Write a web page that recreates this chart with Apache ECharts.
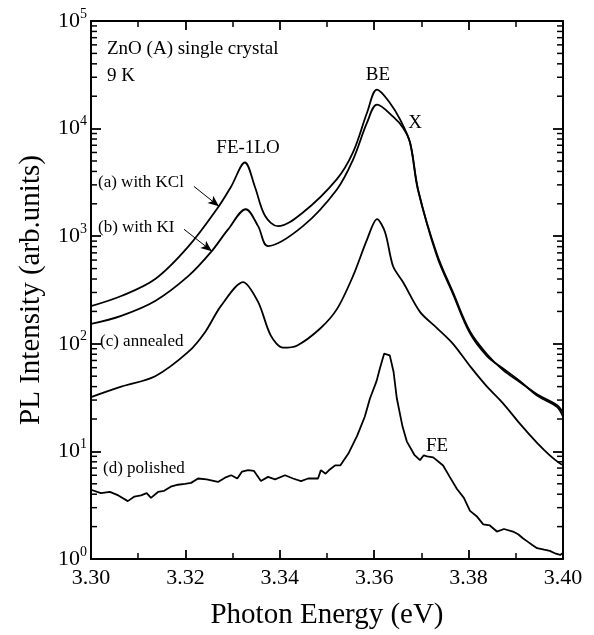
<!DOCTYPE html>
<html>
<head>
<meta charset="utf-8">
<title>ZnO PL spectra</title>
<script src="https://cdn.jsdelivr.net/npm/echarts@6/dist/echarts.min.js"></script>
<style>
  html, body { margin: 0; padding: 0; background: #fff; }
  #chart { width: 594px; height: 635px; }
</style>
</head>
<body>
<div id="chart"></div>
<script>
// (a) with KCl  [photon energy eV, PL intensity]
const withKCl = [
  [3.3000, 224], [3.3064, 278], [3.3136, 400], [3.3206, 800], [3.3269, 1850],
  [3.3297, 2900], [3.3326, 4840], [3.3347, 2900], [3.3369, 1540], [3.3396, 1240],
  [3.3449, 1660], [3.3521, 3390], [3.3555, 6000], [3.3585, 14100], [3.3606, 23000],
  [3.3633, 17400], [3.3655, 12100], [3.3676, 7400], [3.3693, 2720], [3.3733, 650],
  [3.3767, 290], [3.3803, 125], [3.3839, 77], [3.3873, 59], [3.3909, 45],
  [3.3945, 33], [3.3987, 26], [3.4000, 21]
]
// (b) with KI
const withKI = [
  [3.3000, 153], [3.3064, 182], [3.3136, 250], [3.3206, 425], [3.3254, 710],
  [3.3290, 1150], [3.3328, 1780], [3.3354, 1240], [3.3375, 810], [3.3449, 1240],
  [3.3521, 2720], [3.3555, 5130], [3.3585, 11400], [3.3606, 16700], [3.3640, 12900],
  [3.3661, 10200], [3.3676, 7400], [3.3693, 2650], [3.3733, 680], [3.3767, 300],
  [3.3803, 130], [3.3839, 80], [3.3873, 57], [3.3909, 44], [3.3945, 34],
  [3.3987, 27], [3.4000, 23]
]
// (c) annealed
const annealed = [
  [3.3000, 32], [3.3064, 40], [3.3136, 50], [3.3206, 84], [3.3242, 129],
  [3.3275, 224], [3.3322, 375], [3.3354, 245], [3.3381, 119], [3.3407, 92],
  [3.3436, 96], [3.3485, 138], [3.3521, 210], [3.3555, 425], [3.3585, 935],
  [3.3606, 1440], [3.3623, 1090], [3.3640, 525], [3.3661, 375], [3.3697, 198],
  [3.3733, 140], [3.3767, 100], [3.3803, 62], [3.3839, 40], [3.3873, 28],
  [3.3909, 18], [3.3945, 12], [3.3972, 9.2], [3.3994, 7.7], [3.4000, 7.5]
]
// (d) polished
const polished = [
  [3.3000, 4.4], [3.3021, 4.1], [3.3040, 4.2], [3.3058, 3.9], [3.3078, 3.45],
  [3.3092, 3.8], [3.3106, 3.9], [3.3118, 4.1], [3.3127, 3.7], [3.3142, 4.2],
  [3.3155, 4.3], [3.3169, 4.7], [3.3184, 4.9], [3.3199, 5.0], [3.3212, 5.1],
  [3.3227, 5.6], [3.3245, 5.5], [3.3269, 5.2], [3.3284, 5.7], [3.3297, 6.0],
  [3.3310, 5.6], [3.3320, 6.5], [3.3333, 6.7], [3.3345, 6.6], [3.3360, 5.3],
  [3.3375, 5.8], [3.3390, 5.5], [3.3411, 6.0], [3.3428, 5.6], [3.3445, 5.3],
  [3.3460, 5.6], [3.3481, 5.6], [3.3487, 6.7], [3.3497, 6.2], [3.3506, 6.8],
  [3.3517, 7.4], [3.3528, 7.4], [3.3545, 9.5], [3.3564, 14], [3.3580, 21],
  [3.3591, 31], [3.3605, 45], [3.3612, 59], [3.3621, 81], [3.3633, 78],
  [3.3641, 55], [3.3648, 31], [3.3660, 17], [3.3669, 12.4], [3.3685, 9.3],
  [3.3697, 8.3], [3.3705, 9.2], [3.3712, 9.0], [3.3725, 8.8], [3.3746, 7.4],
  [3.3760, 5.8], [3.3775, 4.5], [3.3790, 3.7], [3.3803, 2.8], [3.3817, 2.5],
  [3.3831, 2.1], [3.3845, 2.05], [3.3860, 1.8], [3.3875, 1.9], [3.3894, 1.8],
  [3.3905, 1.7], [3.3915, 1.56], [3.3925, 1.45], [3.3935, 1.35], [3.3945, 1.26],
  [3.3960, 1.22], [3.3972, 1.19], [3.3985, 1.12], [3.3994, 1.09], [3.4000, 1.14]
]

// minor ticks of the log axis (2..9 in each decade)
const minorTicks = []
for (let e = 0; e < 5; e++) {
  for (let m = 2; m <= 9; m++) minorTicks.push([3.35, m * Math.pow(10, e)])
}

const FONT = '"Liberation Serif", "DejaVu Serif", serif'

let chart = echarts.init(document.getElementById('chart'))

function curve(data, smooth) {
  return {
    type: 'line',
    data: data,
    smooth: smooth,
    showSymbol: false,
    silent: true,
    lineStyle: { color: '#000', width: 1.8 }
  }
}

const axisCommon = {
  axisLine: { show: true, lineStyle: { color: '#000', width: 2 } },
  splitLine: { show: false }
}
const xTick = { show: true, inside: true, length: 9, lineStyle: { color: '#000', width: 1.8 } }
const xMinor = { show: true, splitNumber: 2, length: 6, lineStyle: { color: '#000', width: 1.5 } }
const yTick = { show: true, inside: true, length: 10, lineStyle: { color: '#000', width: 1.8 } }

chart.setOption({
  animation: false,
  grid: { left: 91, top: 21, width: 472, height: 540 },
  xAxis: [
    Object.assign({
      type: 'value',
      min: 3.30,
      max: 3.40,
      interval: 0.02,
      name: 'Photon Energy (eV)',
      nameLocation: 'middle',
      nameGap: 42,
      nameTextStyle: { fontFamily: FONT, fontSize: 29, color: '#000' },
      axisTick: xTick,
      minorTick: xMinor,
      axisLabel: {
        margin: 8,
        fontFamily: FONT,
        fontSize: 22,
        color: '#000',
        formatter: v => v.toFixed(2)
      }
    }, axisCommon),
    Object.assign({
      type: 'value',
      position: 'top',
      min: 3.30,
      max: 3.40,
      interval: 0.02,
      axisTick: xTick,
      minorTick: xMinor,
      axisLabel: { show: false }
    }, axisCommon)
  ],
  yAxis: [
    Object.assign({
      type: 'log',
      logBase: 10,
      min: 1,
      max: 100000,
      name: 'PL Intensity (arb.units)',
      nameLocation: 'middle',
      nameGap: 45,
      nameTextStyle: { fontFamily: FONT, fontSize: 29, color: '#000' },
      axisTick: yTick,
      axisLabel: {
        margin: 4,
        fontFamily: FONT,
        color: '#000',
        formatter: v => '{b|10}{s|' + Math.round(Math.log10(v)) + '}',
        rich: {
          b: { fontFamily: FONT, fontSize: 22, color: '#000' },
          s: { fontFamily: FONT, fontSize: 14, color: '#000', padding: [0, 0, 14, 0] }
        }
      }
    }, axisCommon),
    Object.assign({
      type: 'log',
      logBase: 10,
      min: 1,
      max: 100000,
      position: 'right',
      axisTick: yTick,
      axisLabel: { show: false }
    }, axisCommon)
  ],
  series: [
    Object.assign(curve(withKCl, 0.35), {
      markLine: {
        silent: true,
        symbol: ['none', 'arrow'],
        symbolSize: [7, 11],
        label: { show: false },
        lineStyle: { color: '#000', width: 1, type: 'solid' },
        data: [
          [{ coord: [3.3218, 2904] }, { coord: [3.3271, 1896] }],
          [{ coord: [3.3197, 1161] }, { coord: [3.3256, 726] }]
        ]
      }
    }),
    curve(withKI, 0.35),
    curve(annealed, 0.3),
    curve(polished, false),
    {
      type: 'custom',
      silent: true,
      clip: false,
      z: 10,
      data: minorTicks,
      encode: { x: 0, y: 1 },
      renderItem: function (params, api) {
        const y = api.coord([3.35, api.value(1)])[1]
        const cs = params.coordSys
        const st = { stroke: '#000', lineWidth: 1.5 }
        return {
          type: 'group',
          children: [
            { type: 'line', shape: { x1: cs.x, y1: y, x2: cs.x + 6, y2: y }, style: st },
            { type: 'line', shape: { x1: cs.x + cs.width, y1: y, x2: cs.x + cs.width - 6, y2: y }, style: st }
          ]
        }
      }
    }
  ],
  graphic: [
    { type: 'text', x: 107, y: 49, style: { text: 'ZnO (A) single crystal', font: '19px ' + FONT, fill: '#000', verticalAlign: 'middle' } },
    { type: 'text', x: 107, y: 76, style: { text: '9 K', font: '19px ' + FONT, fill: '#000', verticalAlign: 'middle' } },
    { type: 'text', x: 98, y: 183, style: { text: '(a) with KCl', font: '17px ' + FONT, fill: '#000', verticalAlign: 'middle' } },
    { type: 'text', x: 98, y: 228, style: { text: '(b) with KI', font: '17px ' + FONT, fill: '#000', verticalAlign: 'middle' } },
    { type: 'text', x: 100, y: 342, style: { text: '(c) annealed', font: '17px ' + FONT, fill: '#000', verticalAlign: 'middle' } },
    { type: 'text', x: 103, y: 469, style: { text: '(d) polished', font: '17px ' + FONT, fill: '#000', verticalAlign: 'middle' } },
    { type: 'text', x: 248, y: 148, style: { text: 'FE-1LO', font: '19px ' + FONT, fill: '#000', align: 'center', verticalAlign: 'middle' } },
    { type: 'text', x: 378, y: 75, style: { text: 'BE', font: '19px ' + FONT, fill: '#000', align: 'center', verticalAlign: 'middle' } },
    { type: 'text', x: 415, y: 123, style: { text: 'X', font: '19px ' + FONT, fill: '#000', align: 'center', verticalAlign: 'middle' } },
    { type: 'text', x: 437, y: 446, style: { text: 'FE', font: '19px ' + FONT, fill: '#000', align: 'center', verticalAlign: 'middle' } }
  ]
})
</script>
</body>
</html>
